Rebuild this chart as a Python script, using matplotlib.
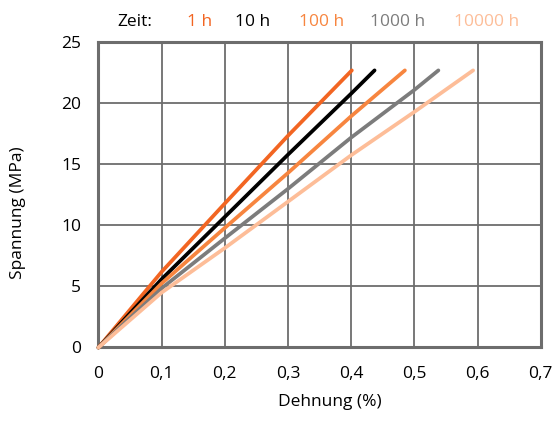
import numpy as np
import matplotlib
matplotlib.use("Agg")
from matplotlib import pyplot as plt

plt.rcParams['font.family'] = ['Open Sans', 'DejaVu Sans']

# strain (%) and stress (MPa), one curve per load time
labels = ["1 h", "10 h", "100 h", "1000 h", "10000 h"]
colors = ["#f26522", "#000000", "#f7853f", "#7c7c7c", "#fdbd98"]
strain = [
    [0.0, 0.1, 0.2, 0.3, 0.401],
    [0.0, 0.1, 0.2, 0.3, 0.4, 0.437],
    [0.0, 0.1, 0.2, 0.3, 0.4, 0.485],
    [0.0, 0.1, 0.2, 0.3, 0.4, 0.5, 0.538],
    [0.0, 0.1, 0.2, 0.3, 0.4, 0.5, 0.593],
]
stress = [
    [0.0, 6.2, 11.8, 17.35, 22.7],
    [0.0, 5.6, 10.7, 15.8, 20.8, 22.7],
    [0.0, 5.25, 9.8, 14.3, 18.95, 22.7],
    [0.0, 4.85, 8.95, 13.0, 17.2, 21.1, 22.7],
    [0.0, 4.5, 8.15, 11.95, 15.75, 19.3, 22.7],
]
xticks = [0, 0.1, 0.2, 0.3, 0.4, 0.5, 0.6, 0.7]
xticklabels = ["0", "0,1", "0,2", "0,3", "0,4", "0,5", "0,6", "0,7"]
yticks = [0, 5, 10, 15, 20, 25]

fig = plt.figure(figsize=(5.58, 4.21), dpi=100)
ax = fig.add_axes([0.1765, 0.1746, 0.7925, 0.7249])

for i in range(len(labels)):
    ax.plot(strain[i], stress[i], color=colors[i], lw=2.7, solid_capstyle="round",
            solid_joinstyle="round", zorder=3, clip_on=False)

ax.set_xlim(0, 0.7)
ax.set_ylim(0, 25)
ax.set_xticks(xticks)
ax.set_xticklabels(xticklabels)
ax.set_yticks(yticks)
ax.grid(True, color="#6d6d6d", lw=1.3)
ax.tick_params(length=0, labelsize=12.5)
ax.tick_params(axis="x", pad=13)
ax.tick_params(axis="y", pad=12.5)
for s in ax.spines.values():
    s.set_color("#6d6d6d")
    s.set_linewidth(2.2)
ax.set_xlabel("Dehnung (%)", fontsize=12.5, va="center", ha="center")
ax.xaxis.set_label_coords(0.5235, -0.1776)
ax.set_ylabel("Spannung (MPa)", fontsize=12.5, va="center", ha="center")
ax.yaxis.set_label_coords(-0.181, 0.4407)

# legend as a row of coloured text above the plot
ly = 1 - 22/421
fig.text(135/558, ly, "Zeit:", fontsize=12.5, va="center", ha="center")
legx = [199.5, 253, 321.5, 398, 487]
for i in range(len(labels)):
    fig.text(legx[i]/558, ly, labels[i], color=colors[i], fontsize=12.5, va="center", ha="center")

fig.savefig("out.png", dpi=100)
